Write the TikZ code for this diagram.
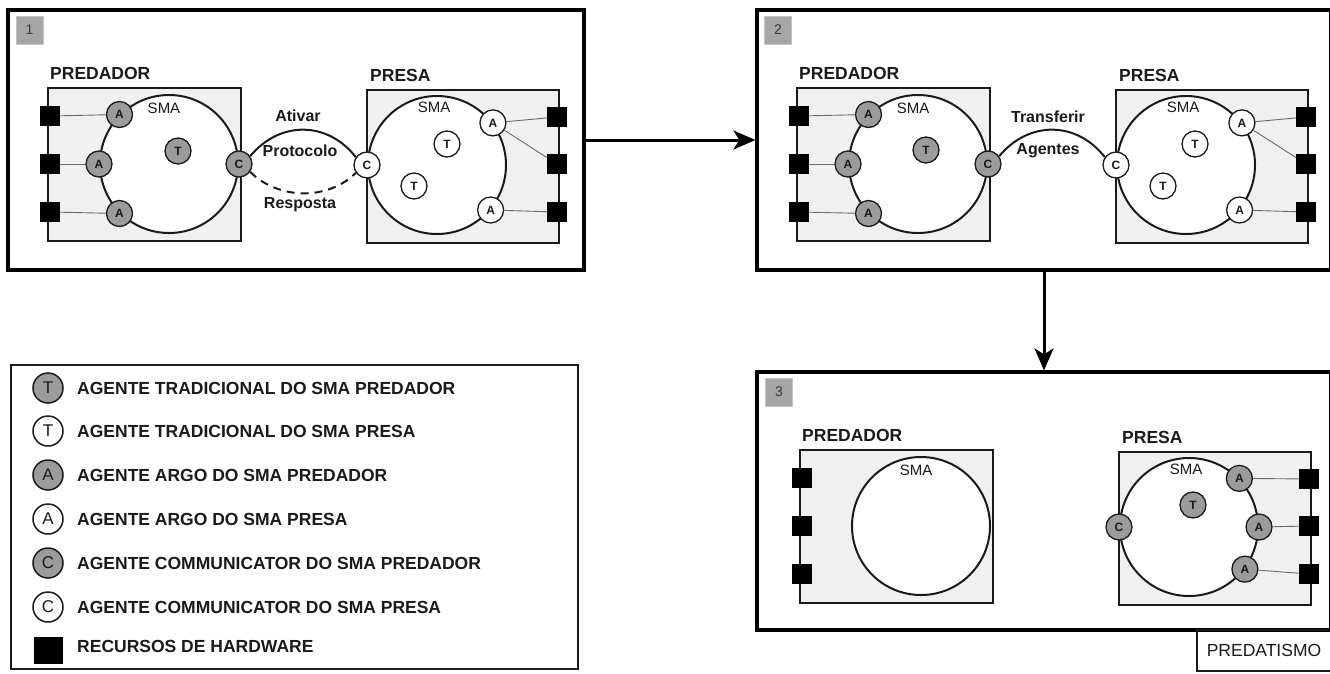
\documentclass[tikz,border=0pt]{standalone}
\usepackage{fontspec}
\setmainfont{Liberation Sans}
\usepackage{tikz}
\usetikzlibrary{arrows.meta}

\definecolor{boxfill}{HTML}{F0F0F0}
\definecolor{agentfill}{HTML}{9B9B9B}
\definecolor{numfill}{HTML}{A6A6A6}
\definecolor{numline}{HTML}{C4C4C4}
\definecolor{numtext}{HTML}{3A3A3A}
\definecolor{wiregray}{HTML}{6A6A6A}
\definecolor{ink}{HTML}{1A1A1A}

\tikzset{
  panel/.style={draw=black, line width=3.2pt, inner sep=0pt},
  numbox/.style={fill=numfill, draw=numline, line width=1pt, minimum width=27pt, minimum height=28pt,
    inner sep=0pt, text=numtext, font=\fontsize{14}{14}\selectfont},
  hostlabel/.style={anchor=west, inner sep=0pt, text=ink, font=\fontsize{17.5}{20}\selectfont\bfseries},
  hostbox/.style={draw=ink, line width=2pt, fill=boxfill, minimum width=193pt, minimum height=153pt},
  hw/.style={fill=black, minimum size=20pt, inner sep=0pt},
  sma/.style={circle, draw=ink, line width=2pt, fill=white, minimum size=138pt, inner sep=0pt},
  smalbl/.style={inner sep=0pt, text=ink, font=\fontsize{15}{15}\selectfont},
  agent/.style={circle, draw=ink, line width=1.3pt, minimum size=26pt, inner sep=0pt, text=ink,
    font=\fontsize{12}{12}\selectfont\bfseries},
  pred/.style={agent, fill=agentfill},
  prey/.style={agent, fill=white},
  wire/.style={draw=wiregray, line width=0.9pt},
  link/.style={draw=ink, line width=2pt},
  linklbl/.style={inner sep=0pt, text=ink, font=\fontsize{16}{16}\selectfont\bfseries},
  flow/.style={line width=3pt, -{Stealth[length=22pt,width=19pt,inset=6pt]}},
  legicon/.style={circle, draw=ink, line width=1.5pt, minimum size=30pt, inner sep=0pt, text=ink,
    font=\fontsize{17}{17}\selectfont},
  legtext/.style={anchor=west, inner sep=0pt, text=ink, font=\fontsize{17.5}{20}\selectfont\bfseries},
}

% predator host: label, box, hardware and SMA circle
\newcommand{\predhost}{%
  \node[hostlabel] (predlbl) at (50,73) {PREDADOR};
  \node[hostbox] (predbox) at (144.5,164.5) {};
  \foreach \i/\y in {1/116,2/164,3/212}
    \node[hw] (psq\i) at (50,\y) {};
  \node[sma] (psma) at (169,164) {};
  \node[smalbl] (psmalbl) at (164,108) {SMA};
}
% prey host
\newcommand{\preyhost}{%
  \node[hostlabel] (preylbl) at (370,75) {PRESA};
  \node[hostbox, minimum width=192pt] (preybox) at (463,166.5) {};
  \foreach \i/\y in {1/117,2/164,3/212}
    \node[hw] (ysq\i) at (557,\y) {};
  \node[sma] (ysma) at (437,165) {};
  \node[smalbl] (ysmalbl) at (434,107) {SMA};
}

\begin{document}
\begin{tikzpicture}[x=1pt,y=-1pt]
\useasboundingbox (0,0) rectangle (1330,673);

% the three stages
\node[panel, minimum width=576pt, minimum height=260pt] (p1) at (296,140) {};
\node[panel, minimum width=574pt, minimum height=260pt] (p2) at (1044,140) {};
\node[panel, minimum width=574pt, minimum height=258pt] (p3) at (1044,501) {};
\node[numbox] (n1) at (29.5,30) {1};
\node[numbox] (n2) at (778,30) {2};
\node[numbox] (n3) at (779,392) {3};

\draw[flow] (p1.east) -- (p2.west);
\draw[flow] (p2.south) -- (p3.north);

% stage 1
\begin{scope}[name prefix=p1-]
\predhost
\preyhost
\node[pred] (pa1) at (psma.135) {A};
\node[pred] (pa2) at (psma.180) {A};
\node[pred] (pa3) at (psma.225) {A};
\node[pred] (pt) at (178,151) {T};
\node[pred] (pc) at (psma.east) {C};
\node[prey] (yc) at (ysma.west) {C};
\node[prey] (ya1) at (ysma.37) {A};
\node[prey] (ya2) at (ysma.-40) {A};
\node[prey] (yt1) at (447,144) {T};
\node[prey] (yt2) at (414,186) {T};
\foreach \i in {1,2,3}
  \draw[wire] (psq\i) -- (pa\i);
\draw[wire] (ya1) -- (ysq1);
\draw[wire] (ya1) -- (ysq2);
\draw[wire] (ya2) -- (ysq3);
\draw[link] (pc.35) .. controls +(30,-36) and +(-28,-36) .. (yc.145);
\draw[link, dash pattern=on 8pt off 6pt] (pc.-35) .. controls +(28,28) and +(-28,28) .. (yc.-145);
\node[linklbl] (ativar) at (298,116) {Ativar};
\node[linklbl] (protocolo) at (300,151) {Protocolo};
\node[linklbl] (resposta) at (300,205) {Resposta};
\end{scope}

% stage 2
\begin{scope}[shift={(749,0)}, name prefix=p2-]
\predhost
\preyhost
\node[pred] (pa1) at (psma.135) {A};
\node[pred] (pa2) at (psma.180) {A};
\node[pred] (pa3) at (psma.225) {A};
\node[pred] (pt) at (177,150) {T};
\node[pred] (pc) at (psma.east) {C};
\node[prey] (yc) at (ysma.west) {C};
\node[prey] (ya1) at (ysma.37) {A};
\node[prey] (ya2) at (ysma.-40) {A};
\node[prey] (yt1) at (446,144) {T};
\node[prey] (yt2) at (414,186) {T};
\foreach \i in {1,2,3}
  \draw[wire] (psq\i) -- (pa\i);
\draw[wire] (ya1) -- (ysq1);
\draw[wire] (ya1) -- (ysq2);
\draw[wire] (ya2) -- (ysq3);
\draw[link] (pc.35) .. controls +(30,-36) and +(-28,-36) .. (yc.145);
\node[linklbl] (transferir) at (299,117) {Transferir};
\node[linklbl] (agentes) at (299,151) {Agentes};
\end{scope}

% stage 3
\begin{scope}[shift={(752,362)}, name prefix=p3-]
\predhost
\preyhost
\node[pred] (yc) at (ysma.west) {C};
\node[pred] (ya1) at (ysma.44) {A};
\node[pred] (ya2) at (ysma.0) {A};
\node[pred] (ya3) at (ysma.-37) {A};
\node[pred] (yt) at (441,143) {T};
\foreach \i in {1,2,3}
  \draw[wire] (ya\i) -- (ysq\i);
\end{scope}

\node[draw=ink, line width=2.8pt, minimum width=134pt, minimum height=41pt, inner sep=0pt,
  text=ink, font=\fontsize{17.5}{20}\selectfont] (mode) at (1264,650.5) {PREDATISMO};

% legend
\node[draw=ink, line width=1.5pt, minimum width=567pt, minimum height=304pt] (legend) at (294.5,517) {};
\foreach \i/\y/\fc/\ltr/\txt in {1/388/agentfill/T/AGENTE TRADICIONAL DO SMA PREDADOR,
    2/431/white/T/AGENTE TRADICIONAL DO SMA PRESA,
    3/475/agentfill/A/AGENTE ARGO DO SMA PREDADOR,
    4/519/white/A/AGENTE ARGO DO SMA PRESA,
    5/563/agentfill/C/AGENTE COMMUNICATOR DO SMA PREDADOR,
    6/607/white/C/AGENTE COMMUNICATOR DO SMA PRESA}
{
  \node[legicon, fill=\fc] (li\i) at (48,\y) {\ltr};
  \node[legtext] (lt\i) at (77,\y) {\txt};
}
\node[hw, minimum width=29pt, minimum height=27pt] (li7) at (48,650) {};
\node[legtext] (lt7) at (77,646) {RECURSOS DE HARDWARE};

\end{tikzpicture}
\end{document}
